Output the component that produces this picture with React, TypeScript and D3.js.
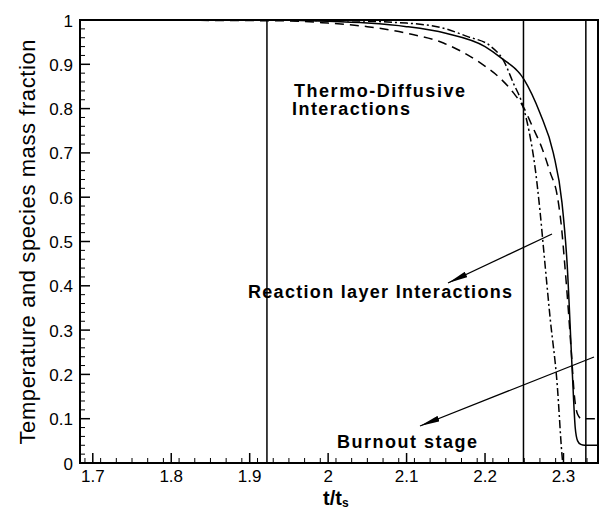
import * as d3 from 'd3';
import React, { useEffect, useRef } from 'react';

// curve data (t/t_s, normalized value)
const solidX = [1.6837, 1.9, 2.0, 2.05, 2.1, 2.15, 2.2, 2.22, 2.25, 2.27, 2.287, 2.298, 2.3045, 2.311, 2.315, 2.318, 2.322, 2.327, 2.344];
const solidY = [1, 1, 0.997, 0.993, 0.985, 0.97, 0.94, 0.915, 0.865, 0.79, 0.7, 0.589, 0.454, 0.214, 0.079, 0.05, 0.042, 0.04, 0.04];

const dashedX = [1.6837, 1.95, 2.0, 2.05, 2.1, 2.147, 2.194, 2.219, 2.236, 2.25, 2.26, 2.273, 2.283, 2.292, 2.297, 2.302, 2.306, 2.31, 2.314, 2.318, 2.323, 2.344];
const dashedY = [1, 0.998, 0.993, 0.985, 0.97, 0.948, 0.903, 0.869, 0.836, 0.8, 0.761, 0.709, 0.656, 0.604, 0.54, 0.44, 0.35, 0.25, 0.15, 0.11, 0.1, 0.1];

const dashDotX = [1.6837, 2.0, 2.1, 2.15, 2.177, 2.207, 2.224, 2.236, 2.247, 2.256, 2.264, 2.27, 2.275, 2.283, 2.292, 2.298, 2.299];
const dashDotY = [1, 0.999, 0.993, 0.98, 0.963, 0.941, 0.907, 0.858, 0.813, 0.75, 0.664, 0.57, 0.476, 0.327, 0.177, 0.02, 0];

const stageLines = [1.922, 2.249, 2.3285];
const xTicks = [1.7, 1.8, 1.9, 2, 2.1, 2.2, 2.3];
const yTicks = [0, 0.1, 0.2, 0.3, 0.4, 0.5, 0.6, 0.7, 0.8, 0.9, 1];

const FONT = 'Arial, "Liberation Sans", sans-serif';

const App = () => {
  const svgRef = useRef(null);

  useEffect(() => {
    const svg = d3.select(svgRef.current);
    svg.selectAll('*').remove();

    const x = d3.scaleLinear().domain([1.6837, 2.344]).range([80, 598]);
    const y = d3.scaleLinear().domain([0, 1]).range([463, 20]);

    const defs = svg.append('defs');
    defs
      .append('marker')
      .attr('id', 'arrow')
      .attr('viewBox', '0 0 20 6')
      .attr('refX', 20)
      .attr('refY', 3)
      .attr('markerWidth', 20)
      .attr('markerHeight', 6)
      .attr('markerUnits', 'userSpaceOnUse')
      .attr('orient', 'auto')
      .append('path')
      .attr('d', 'M0,0 L20,3 L0,6 Z')
      .attr('fill', 'black');

    const g = svg.append('g');

    //minor ticks
    const xMinor = d3.range(1.69, 2.344, 0.02).filter((v) => !xTicks.some((t) => Math.abs(t - v) < 1e-6));
    const yMinor = d3.range(0.02, 1, 0.02).filter((v) => !yTicks.some((t) => Math.abs(t - v) < 1e-6));

    g.selectAll('.xmin')
      .data(xMinor)
      .enter()
      .append('line')
      .attr('x1', (d) => x(d))
      .attr('x2', (d) => x(d))
      .attr('y1', y(0))
      .attr('y2', y(0) - 5)
      .attr('stroke', 'black')
      .attr('stroke-width', 1);
    g.selectAll('.xmaj')
      .data(xTicks)
      .enter()
      .append('line')
      .attr('x1', (d) => x(d))
      .attr('x2', (d) => x(d))
      .attr('y1', y(0))
      .attr('y2', y(0) - 10)
      .attr('stroke', 'black')
      .attr('stroke-width', 1.5);
    g.selectAll('.ymin')
      .data(yMinor)
      .enter()
      .append('line')
      .attr('x1', x.range()[0])
      .attr('x2', x.range()[0] + 5)
      .attr('y1', (d) => y(d))
      .attr('y2', (d) => y(d))
      .attr('stroke', 'black')
      .attr('stroke-width', 1);
    g.selectAll('.ymaj')
      .data(yTicks)
      .enter()
      .append('line')
      .attr('x1', x.range()[0])
      .attr('x2', x.range()[0] + 10)
      .attr('y1', (d) => y(d))
      .attr('y2', (d) => y(d))
      .attr('stroke', 'black')
      .attr('stroke-width', 1.5);

    //tick labels
    g.selectAll('.xlab')
      .data(xTicks)
      .enter()
      .append('text')
      .attr('x', (d) => x(d))
      .attr('y', y(0) + 19)
      .attr('text-anchor', 'middle')
      .attr('font-family', FONT)
      .attr('font-size', 17)
      .text((d) => d3.format('~g')(d));
    g.selectAll('.ylab')
      .data(yTicks)
      .enter()
      .append('text')
      .attr('x', 73)
      .attr('y', (d) => y(d) + 6.5)
      .attr('text-anchor', 'end')
      .attr('font-family', FONT)
      .attr('font-size', 17)
      .text((d) => d3.format('~g')(d));

    //stage separators
    g.selectAll('.stage')
      .data(stageLines)
      .enter()
      .append('line')
      .attr('x1', (d) => x(d))
      .attr('x2', (d) => x(d))
      .attr('y1', y(0))
      .attr('y2', y(1))
      .attr('stroke', 'black')
      .attr('stroke-width', 1.5);

    //curves
    const line = d3
      .line()
      .x((d) => x(d[0]))
      .y((d) => y(d[1]))
      .curve(d3.curveMonotoneX);

    const series = [
      { xs: solidX, ys: solidY, dash: null },
      { xs: dashedX, ys: dashedY, dash: '9,6' },
      { xs: dashDotX, ys: dashDotY, dash: '8,3,2,3' }
    ];
    series.forEach((s) => {
      g.append('path')
        .datum(s.xs.map((v, i) => [v, s.ys[i]]))
        .attr('d', line)
        .attr('fill', 'none')
        .attr('stroke', 'black')
        .attr('stroke-width', 1.5)
        .attr('stroke-dasharray', s.dash);
    });

    //frame
    g.append('rect')
      .attr('x', x.range()[0])
      .attr('y', y(1))
      .attr('width', x.range()[1] - x.range()[0])
      .attr('height', y(0) - y(1))
      .attr('fill', 'none')
      .attr('stroke', 'black')
      .attr('stroke-width', 2);

    //annotations
    const ann = g.append('g').attr('font-family', FONT).attr('font-weight', 'bold').attr('font-size', 18);
    ann.append('text').attr('x', 294).attr('y', 97).attr('textLength', 171).text('Thermo-Diffusive');
    ann.append('text').attr('x', 292).attr('y', 115).attr('textLength', 118).text('Interactions');
    ann.append('text').attr('x', 248).attr('y', 298).attr('textLength', 264).text('Reaction layer Interactions');
    ann.append('text').attr('x', 337).attr('y', 448).attr('textLength', 140).text('Burnout stage');

    g.append('line')
      .attr('x1', 552)
      .attr('y1', 234)
      .attr('x2', 448)
      .attr('y2', 283)
      .attr('stroke', 'black')
      .attr('stroke-width', 1.3)
      .attr('marker-end', 'url(#arrow)');
    g.append('line')
      .attr('x1', 594)
      .attr('y1', 357)
      .attr('x2', 420)
      .attr('y2', 426)
      .attr('stroke', 'black')
      .attr('stroke-width', 1.3)
      .attr('marker-end', 'url(#arrow)');

    //axis titles
    g.append('text')
      .attr('transform', `translate(35, 242) rotate(-90)`)
      .attr('text-anchor', 'middle')
      .attr('font-family', FONT)
      .attr('font-size', 22)
      .attr('textLength', 405)
      .text('Temperature and species mass fraction');

    const xt = g
      .append('text')
      .attr('x', 323)
      .attr('y', 505)
      .attr('font-family', FONT)
      .attr('font-weight', 'bold')
      .attr('font-size', 20)
      .text('t/t');
    xt.append('tspan').attr('font-size', 12).attr('dy', 1.5).text('s');
  }, []);

  return (
    <svg
      ref={svgRef}
      width={601}
      height={510}
      style={{ position: 'absolute', left: 0, top: 0, background: 'white' }}
    ></svg>
  );
};

export default App;
